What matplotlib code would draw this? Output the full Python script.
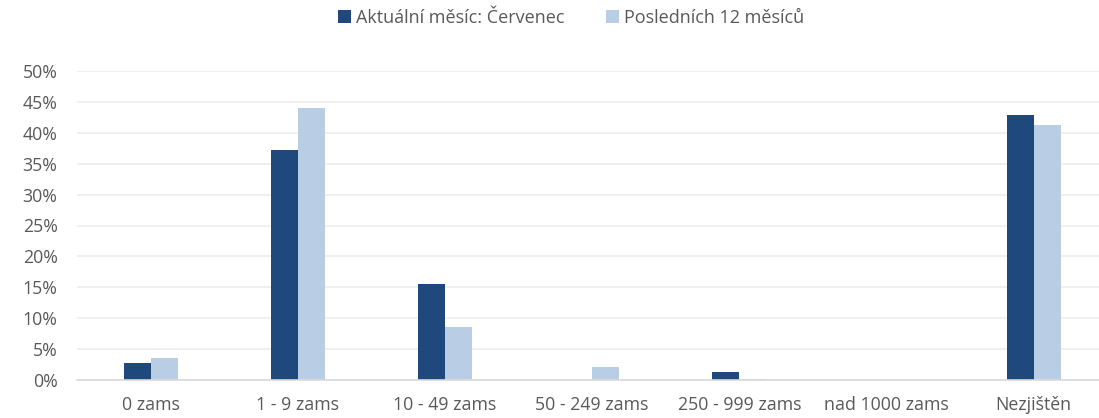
import matplotlib
matplotlib.use("Agg")
import matplotlib.pyplot as plt
from matplotlib.patches import Patch
import numpy as np

categories = ["0 zams", "1 - 9 zams", "10 - 49 zams", "50 - 249 zams", "250 - 999 zams", "nad 1000 zams", "Nezjištěn"]
current = [2.8, 37.2, 15.6, 0.0, 1.3, 0.0, 42.9]
last12 = [3.6, 43.9, 8.6, 2.1, 0.2, 0.0, 41.3]
series_names = ["Aktuální měsíc: Červenec", "Posledních 12 měsíců"]
yticks = [0, 5, 10, 15, 20, 25, 30, 35, 40, 45, 50]

dark = "#1F497D"
light = "#B9CDE5"
textc = "#595959"

plt.rcParams['font.family'] = ['Open Sans', 'DejaVu Sans']

W, H = 1099, 418
fig = plt.figure(figsize=(W/100, H/100), dpi=100)
left_px, right_px = 77.0, 1107.3
top_px, bot_px = 70.7, 380.3
ax = fig.add_axes([left_px/W, (H-bot_px)/H, (right_px-left_px)/W, (bot_px-top_px)/H])

x = np.arange(len(categories))
bw = 0.1834
ax.bar(x - bw/2, np.array(current)/100, width=bw, color=dark, zorder=3)
ax.bar(x + bw/2, np.array(last12)/100, width=bw, color=light, zorder=3)

ax.set_xlim(-0.5, len(categories) - 0.5)
ax.set_ylim(0, 0.5)
ax.set_yticks([v/100 for v in yticks])
ax.set_yticklabels([f"{v}%" for v in yticks])
ax.set_xticks(x)
ax.set_xticklabels(categories)
ax.tick_params(axis='both', length=0, labelsize=12.8, colors=textc)
ax.tick_params(axis='y', pad=14)
ax.tick_params(axis='x', pad=11)
ax.grid(axis='y', color="#EDEDED", linewidth=1.2, zorder=0)
for s in ['top', 'right', 'left']:
    ax.spines[s].set_visible(False)
ax.spines['bottom'].set_color("#D9D9D9")
ax.spines['bottom'].set_linewidth(1.2)
ax.spines['bottom'].set_zorder(4)

handles = [Patch(facecolor=dark), Patch(facecolor=light)]
fig.legend(handles, series_names, loc='center', bbox_to_anchor=(571/W, 1 - 18/H),
           ncol=2, frameon=False, fontsize=13, labelcolor=textc,
           handlelength=0.7, handleheight=0.7, handletextpad=0.3, columnspacing=2.3)

fig.savefig("out.png", dpi=100)
